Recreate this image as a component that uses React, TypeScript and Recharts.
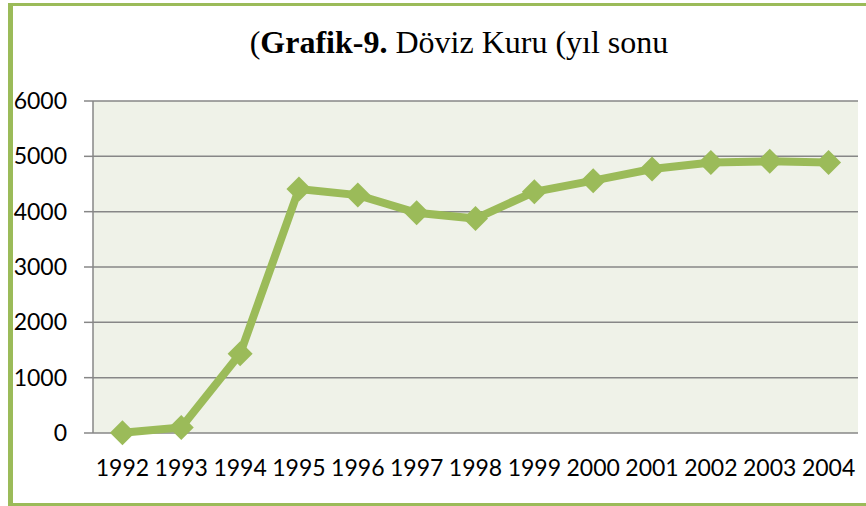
import { LineChart, Line, XAxis, YAxis, CartesianGrid } from "recharts";

const years = ["1992", "1993", "1994", "1995", "1996", "1997", "1998", "1999", "2000", "2001", "2002", "2003", "2004"];
const kur = [5, 100, 1430, 4410, 4300, 3980, 3875, 4360, 4560, 4770, 4890, 4910, 4890];
const yTicks = [0, 1000, 2000, 3000, 4000, 5000, 6000];

const data = years.map((y, i) => ({ idx: i, year: y, kur: kur[i] }));
const bandEdges = years.map((_, i) => i - 0.5).concat([years.length - 0.5]);

const GREEN = "#9bbb59";
const AXIS = "#878787";
const labelFont = { fontFamily: "Lato, 'Open Sans', sans-serif", fontSize: 23, fill: "#000" };

// diamond marker like the Excel one
const Diamond = (props: any) => {
  const { cx, cy } = props;
  if (cx == null || cy == null) return null;
  const r = 12.5;
  return (
    <polygon
      key={`d-${props.index}`}
      points={`${cx},${cy - r} ${cx + r},${cy} ${cx},${cy + r} ${cx - r},${cy}`}
      fill={GREEN}
      stroke="none"
    />
  );
};

export default function App() {
  return (
    <div style={{ position: "fixed", left: 0, top: 0, width: 866, height: 506, overflow: "hidden", background: "#fff" }}>
      <div
        style={{
          position: "absolute",
          left: 8,
          top: 3,
          width: 900,
          height: 497,
          borderLeft: `5px solid ${GREEN}`,
          borderTop: `3px solid ${GREEN}`,
          borderBottom: `3px solid ${GREEN}`,
        }}
      />
      <div
        style={{
          position: "absolute",
          left: 0,
          width: 918,
          top: 22,
          textAlign: "center",
          fontFamily: "'Liberation Serif', 'Times New Roman', serif",
          fontSize: 32,
          lineHeight: "40px",
          color: "#000",
          whiteSpace: "nowrap",
        }}
      >
        (<b>Grafik-9.</b> Döviz Kuru (yıl sonu
      </div>
      <div style={{ position: "absolute", left: 0, top: 0 }}>
        <LineChart width={866} height={506} data={data} margin={{ top: 101, right: 8, bottom: 0, left: 0 }}>
          <CartesianGrid vertical={false} stroke={AXIS} strokeWidth={1.5} fill="#eff2e8" />
          <XAxis
            xAxisId="edges"
            dataKey="idx"
            type="number"
            domain={[-0.5, years.length - 0.5]}
            ticks={bandEdges}
            tickFormatter={() => ""}
            height={0}
            tickSize={8}
            stroke={AXIS}
            strokeWidth={1.5}
            allowDataOverflow
          />
          <XAxis
            dataKey="idx"
            type="number"
            domain={[-0.5, years.length - 0.5]}
            ticks={data.map((d) => d.idx)}
            tickFormatter={(v: number) => years[v]}
            height={73}
            axisLine={false}
            tickLine={false}
            tickSize={8}
            tickMargin={19}
            tick={labelFont}
            interval={0}
          />
          <YAxis
            width={93}
            domain={[0, 6000]}
            ticks={yTicks}
            tickSize={9}
            tickMargin={17}
            stroke={AXIS}
            strokeWidth={1.5}
            tick={labelFont}
            interval={0}
          />
          <Line
            dataKey="kur"
            stroke={GREEN}
            strokeWidth={8}
            dot={<Diamond />}
            activeDot={false}
            isAnimationActive={false}
          />
        </LineChart>
      </div>
    </div>
  );
}
